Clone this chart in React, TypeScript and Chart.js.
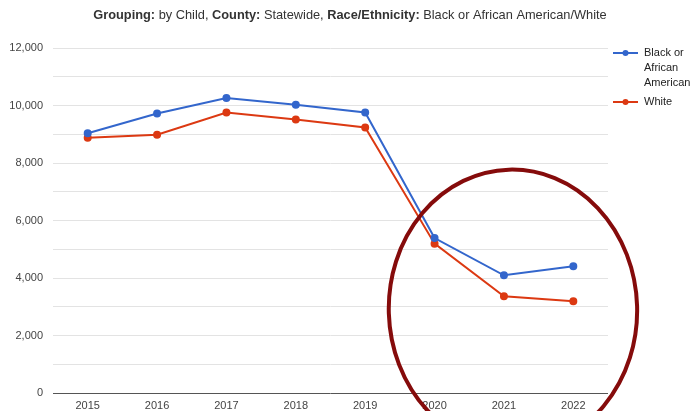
import React, { useEffect, useRef } from "react";
import { Chart, registerables } from "chart.js";

Chart.register(...registerables);

const years = ["2015", "2016", "2017", "2018", "2019", "2020", "2021", "2022"];
const blackValues = [9035, 9720, 10258, 10025, 9755, 5390, 4095, 4405];
const whiteValues = [8880, 8985, 9755, 9510, 9235, 5195, 3365, 3190];
const seriesNames = ["Black or African American", "White"];
const legendLines = [["Black or", "African", "American"], ["White"]];
const seriesColors = ["#3366cc", "#dc3912"];

// title pieces: [text, bold]
const titleParts: [string, boolean][] = [
  ["Grouping:", true],
  [" by Child, ", false],
  ["County:", true],
  [" Statewide, ", false],
  ["Race/Ethnicity:", true],
  [" Black or African American/White", false],
];

// highlight ring in data units (category index, value)
const ringCenter = { index: 6.13, value: 2900 };
const ringRadius = { index: 1.79, value: 4870 };

const FONT = "'Liberation Sans', Arial, sans-serif";

const titlePlugin = {
  id: "mixedTitle",
  afterDraw(chart: any) {
    const ctx = chart.ctx;
    ctx.save();
    ctx.textBaseline = "middle";
    ctx.fillStyle = "#333";
    const fontFor = (b: boolean) => `${b ? "bold " : ""}12.8px ${FONT}`;
    let total = 0;
    for (const [t, b] of titleParts) {
      ctx.font = fontFor(b);
      total += ctx.measureText(t).width;
    }
    let x = 350 - total / 2;
    for (const [t, b] of titleParts) {
      ctx.font = fontFor(b);
      ctx.fillText(t, x, 15);
      x += ctx.measureText(t).width;
    }
    ctx.restore();
  },
};

const legendPlugin = {
  id: "sideLegend",
  afterDraw(chart: any) {
    const ctx = chart.ctx;
    const left = chart.chartArea.right + 5;
    ctx.save();
    ctx.font = `11px ${FONT}`;
    ctx.textBaseline = "middle";
    let y = 53;
    legendLines.forEach((lines, i) => {
      ctx.strokeStyle = seriesColors[i];
      ctx.fillStyle = seriesColors[i];
      ctx.lineWidth = 2;
      ctx.beginPath();
      ctx.moveTo(left, y);
      ctx.lineTo(left + 25, y);
      ctx.stroke();
      ctx.beginPath();
      ctx.arc(left + 12.5, y, 3, 0, Math.PI * 2);
      ctx.fill();
      ctx.fillStyle = "#222";
      lines.forEach((ln, k) => ctx.fillText(ln, left + 31, y + k * 15));
      y += (lines.length - 1) * 15 + 19;
    });
    ctx.restore();
  },
};

const ringPlugin = {
  id: "ring",
  afterDraw(chart: any) {
    const xs = chart.scales.x;
    const ys = chart.scales.y;
    const cx = xs.getPixelForValue(ringCenter.index);
    const cy = ys.getPixelForValue(ringCenter.value);
    const rx = xs.getPixelForValue(ringCenter.index + ringRadius.index) - cx;
    const ry = cy - ys.getPixelForValue(ringCenter.value + ringRadius.value);
    const ctx = chart.ctx;
    ctx.save();
    ctx.strokeStyle = "#850b0b";
    ctx.lineWidth = 4;
    ctx.beginPath();
    ctx.ellipse(cx, cy, rx, ry, -0.03, 0, Math.PI * 2);
    ctx.stroke();
    ctx.restore();
  },
};

export default function App() {
  const ref = useRef<HTMLCanvasElement>(null);

  useEffect(() => {
    if (!ref.current) return;
    const chart = new Chart(ref.current, {
      type: "line",
      data: {
        labels: years,
        datasets: [blackValues, whiteValues].map((d, i) => ({
          label: seriesNames[i],
          data: d,
          borderColor: seriesColors[i],
          backgroundColor: seriesColors[i],
          borderWidth: 2,
          pointRadius: 3,
          pointHoverRadius: 3,
          tension: 0,
        })),
      },
      options: {
        animation: false,
        responsive: false,
        layout: { padding: { top: 48, right: 84, left: 0, bottom: 0 } },
        plugins: {
          legend: { display: false },
          title: { display: false },
          tooltip: { enabled: false },
        },
        scales: {
          x: {
            offset: true,
            grid: { display: false, drawTicks: false },
            border: { display: false },
            ticks: {
              padding: 6,
              color: "#444",
              font: { family: FONT, size: 11 },
              maxRotation: 0,
            },
            afterFit(scale: any) {
              scale.height = 18;
            },
          },
          y: {
            min: 0,
            max: 12000,
            border: { display: false },
            grid: {
              drawTicks: false,
              color: (c: any) => (c.tick && c.tick.value === 0 ? "#555" : "#e3e3e3"),
              lineWidth: 1,
            },
            ticks: {
              stepSize: 1000,
              padding: 10,
              color: "#444",
              font: { family: FONT, size: 11 },
              callback: (v: any) => (Number(v) % 2000 === 0 ? Number(v).toLocaleString("en-US") : ""),
            },
            afterFit(scale: any) {
              scale.width = 53;
            },
          },
        },
      },
      plugins: [titlePlugin, legendPlugin, ringPlugin],
    });
    return () => chart.destroy();
  }, []);

  return (
    <div style={{ position: "fixed", left: 0, top: 0, width: 692, height: 411, background: "#fff" }}>
      <canvas ref={ref} width={692} height={411} />
    </div>
  );
}
